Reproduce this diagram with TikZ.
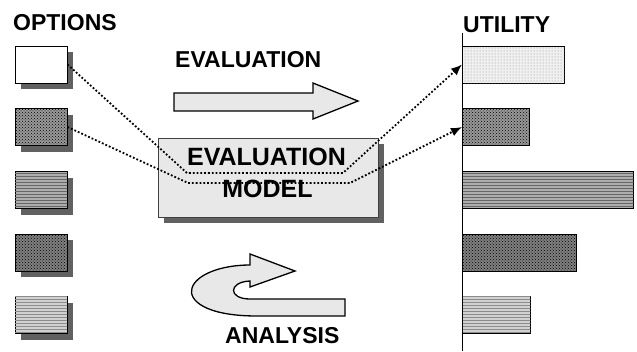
\documentclass[tikz,border=0pt]{standalone}
\usepackage{fontspec}
\setmainfont{Liberation Sans}
\usetikzlibrary{arrows.meta,patterns}

\tikzset{
  title/.style={font=\bfseries\fontsize{23}{23}\selectfont, inner sep=0pt, anchor=base west},
  modeltext/.style={font=\bfseries\fontsize{25}{25}\selectfont, inner sep=0pt, anchor=base},
  optbox/.style={draw, line width=1pt, minimum width=52pt, minimum height=37pt, inner sep=0pt},
  boxshadow/.style={fill=black!62},
  bar/.style={draw, line width=0.8pt, minimum height=37pt, inner sep=0pt, anchor=west},
  link/.style={dotted, line width=1.8pt, -{Latex[length=11pt,width=9pt]}},
  fatarrow/.style={draw, line width=1.3pt, fill=black!9},
  % fill textures
  plain/.style={fill=white},
  stipple/.style={fill=black!40, postaction={pattern=crosshatch dots, pattern color=black}},
  lines/.style={fill=black!32, postaction={pattern=horizontal lines, pattern color=black!60}},
  darkstipple/.style={fill=black!50, postaction={pattern=crosshatch dots, pattern color=black}},
  lightlines/.style={fill=black!18, postaction={pattern=horizontal lines, pattern color=black!45}},
  lightdots/.style={fill=black!6, postaction={pattern=dots, pattern color=black!45}},
}

\begin{document}
\begin{tikzpicture}[x=1pt, y=-1pt]
  \useasboundingbox (0,0) rectangle (637,351);

  % headings
  \node [title] (options) at (13,30) {OPTIONS};
  \node [title] (utility) at (463,32) {UTILITY};
  \node [title] (evaluation) at (175,67) {EVALUATION};
  \node [title] (analysis) at (225,343) {ANALYSIS};

  % option boxes with their shadows
  \foreach \y/\tex [count=\i] in {64.5/plain, 127/stipple, 190/lines, 252.5/darkstipple, 315/lightlines} {
    \fill [boxshadow] (21,\y-12.5) rectangle (73,\y+24.5);
    \node [optbox, \tex] (opt\i) at (41,\y) {};
  }

  % utility bars
  \node [bar, lightdots, minimum width=102pt] (bar1) at (462,64.5) {};
  \node [bar, stipple, minimum width=67pt] (bar2) at (462,127) {};
  \node [bar, lines, minimum width=171pt] (bar3) at (462,190) {};
  \node [bar, darkstipple, minimum width=114pt] (bar4) at (462,252.5) {};
  \node [bar, lightlines, minimum width=68pt] (bar5) at (462,315) {};
  \draw [line width=1pt] (462,33) -- (462,351);

  % evaluation arrow
  \draw [fatarrow] (174,93) -- (313,93) -- (313,83) -- (358,101) -- (313,119) -- (313,111) -- (174,111) -- cycle;

  % evaluation model
  \fill [boxshadow] (164,144) rectangle (384,223);
  \node [draw=black!75, line width=1pt, fill=black!9, minimum width=220pt, minimum height=79pt, inner sep=0pt] (model) at (268,177.5) {};
  \node [modeltext] (modeltop) at (266.5,165) {EVALUATION};
  \node [modeltext] (modelbottom) at (267.5,197) {MODEL};

  % analysis loop arrow
  \draw [fatarrow] (250,254) -- (295,271) -- (250,287) -- (250,281)
    .. controls (228,282) and (228,299) .. (250,299) -- (345,299) -- (345,316) -- (257,316)
    .. controls (205,316) and (188,300) .. (192,288)
    .. controls (196,275) and (220,265) .. (250,265) -- cycle;

  % links through the model
  \coordinate (k1a) at (187,173);
  \coordinate (k1b) at (343,173);
  \coordinate (k2a) at (188,183);
  \coordinate (k2b) at (350,183);
  \draw [link] (opt1.east) -- (k1a) -- (k1b) -- (bar1.west);
  \draw [link] (opt2.east) -- (k2a) -- (k2b) -- (bar2.west);
\end{tikzpicture}
\end{document}
